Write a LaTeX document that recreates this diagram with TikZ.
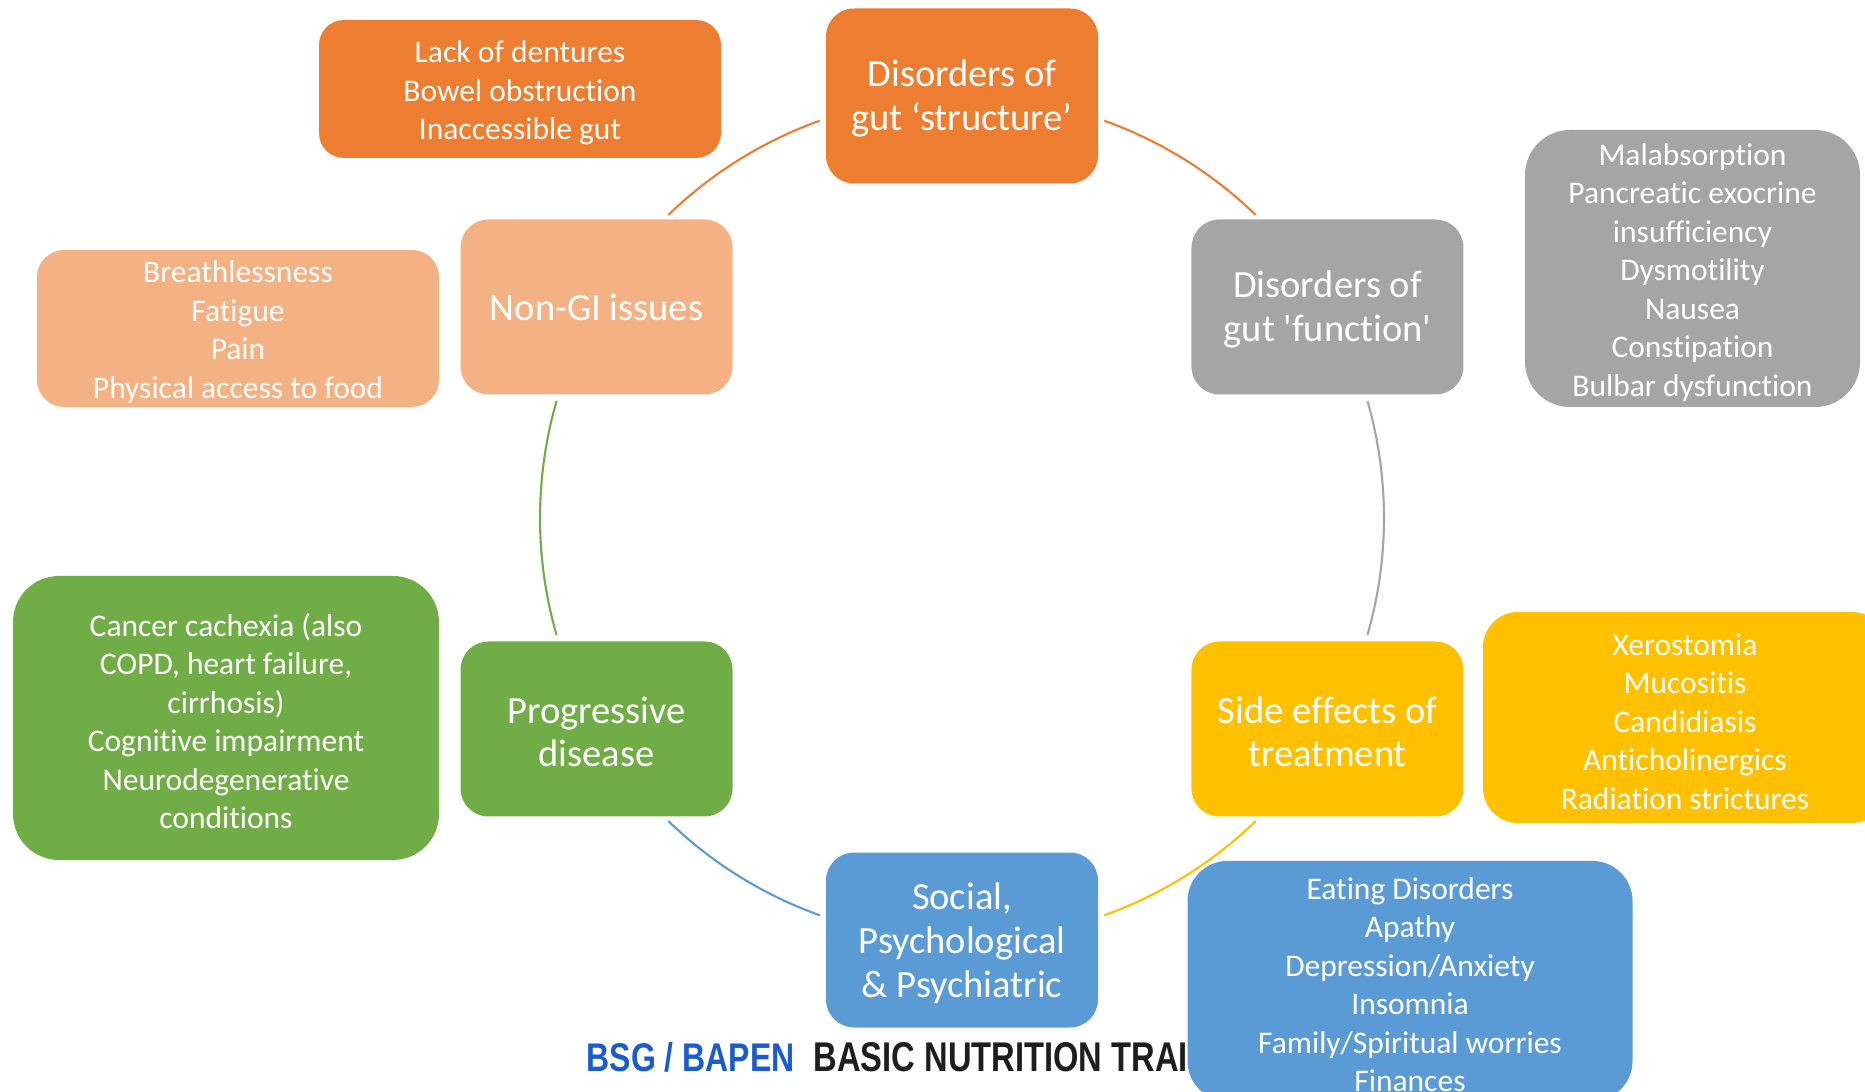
\documentclass[tikz,border=0pt]{standalone}
\usepackage{fontspec}
\setmainfont{Carlito}[Ligatures={NoCommon}]
\newfontfamily\brandfont{Liberation Sans}

\definecolor{gutOrange}{HTML}{ED7D31}
\definecolor{gutGrey}{HTML}{A5A5A5}
\definecolor{gutYellow}{HTML}{FFC000}
\definecolor{gutBlue}{HTML}{5B9BD5}
\definecolor{gutGreen}{HTML}{70AD47}
\definecolor{gutPeach}{HTML}{F4B183}
\definecolor{brandBlue}{HTML}{1A5CCC}
\definecolor{brandBlack}{HTML}{1E1E1E}

% struts that push the text blocks down a little
\newcommand{\causegap}{\rule{0pt}{9.2pt}}
\newcommand{\listgap}{\rule{0pt}{8.4pt}}

\tikzset{
  causebox/.style={rectangle, rounded corners=0.28cm,
    minimum width=2.72cm, minimum height=1.75cm,
    inner sep=0pt, align=center, text=white,
    font=\fontsize{10.95pt}{12.5pt}\selectfont},
  listbox/.style={rectangle, inner sep=0pt, align=center, text=white,
    font=\fontsize{8.96pt}{10.95pt}\selectfont},
  ring/.style={line width=0.6pt},
}

\def\ringRadius{4.22}

\begin{document}
\begin{tikzpicture}
  \useasboundingbox (0,0) rectangle (18.65,10.91);
  \coordinate (hub) at (9.62,5.73);

  % the ring, in six coloured pieces
  \draw[ring, gutOrange]
    ([shift={(70.3:\ringRadius)}]hub)
    arc[start angle=70.3, end angle=45.9, radius=\ringRadius];
  \draw[ring, gutGrey]
    ([shift={(16.1:\ringRadius)}]hub)
    arc[start angle=16.1, end angle=-16.1, radius=\ringRadius];
  \draw[ring, gutYellow]
    ([shift={(-45.9:\ringRadius)}]hub)
    arc[start angle=-45.9, end angle=-70.3, radius=\ringRadius];
  \draw[ring, gutBlue]
    ([shift={(-109.7:\ringRadius)}]hub)
    arc[start angle=-109.7, end angle=-134.1, radius=\ringRadius];
  \draw[ring, gutGreen]
    ([shift={(-163.9:\ringRadius)}]hub)
    arc[start angle=-163.9, end angle=-196.1, radius=\ringRadius];
  \draw[ring, gutOrange]
    ([shift={(134.1:\ringRadius)}]hub)
    arc[start angle=134.1, end angle=109.7, radius=\ringRadius];

  % the six causes
  \node[causebox, fill=gutOrange] (structure)
    at ([shift={(90:\ringRadius)}]hub)
    {\causegap Disorders of\\gut ‘structure’};
  \node[causebox, fill=gutGrey] (function)
    at ([shift={(30:\ringRadius)}]hub)
    {\causegap Disorders of\\gut \textquotesingle function\textquotesingle};
  \node[causebox, fill=gutYellow] (sideeffects)
    at ([shift={(-30:\ringRadius)}]hub)
    {\causegap Side effects of\\treatment};
  \node[causebox, fill=gutBlue] (social)
    at ([shift={(-90:\ringRadius)}]hub)
    {\causegap Social,\\Psychological\\\& Psychiatric};
  \node[causebox, fill=gutGreen] (progressive)
    at ([shift={(-150:\ringRadius)}]hub)
    {\causegap Progressive\\disease};
  \node[causebox, fill=gutPeach] (nongi)
    at ([shift={(150:\ringRadius)}]hub)
    {Non-GI issues};

  % footer
  \node[anchor=base west, inner sep=0pt, text=brandBlue] (brand)
    at (5.86,0.20)
    {\resizebox{2.08cm}{0.29cm}{\brandfont\bfseries BSG / BAPEN}};
  \node[anchor=base west, inner sep=0pt, text=brandBlack] (course)
    at (8.13,0.20)
    {\resizebox{3.74cm}{0.29cm}{\brandfont\bfseries BASIC NUTRITION TRAI}};

  % examples for each cause
  \node[listbox, fill=gutOrange, rounded corners=0.25cm,
    minimum width=4.02cm, minimum height=1.38cm] (structurelist)
    at (5.20,10.02)
    {\listgap Lack of dentures\\Bowel obstruction\\Inaccessible gut};
  \node[listbox, fill=gutGrey, rounded corners=0.45cm,
    minimum width=3.35cm, minimum height=2.77cm] (functionlist)
    at (16.925,8.225)
    {\listgap Malabsorption\\Pancreatic exocrine\\insufficiency\\Dysmotility\\Nausea\\Constipation\\Bulbar dysfunction};
  \node[listbox, fill=gutYellow, rounded corners=0.35cm,
    minimum width=4.04cm, minimum height=2.11cm] (sideeffectslist)
    at (16.85,3.735)
    {\listgap Xerostomia\\Mucositis\\Candidiasis\\Anticholinergics\\Radiation strictures};
  \node[listbox, fill=gutBlue, rounded corners=0.4cm,
    minimum width=4.45cm, minimum height=2.40cm] (sociallist)
    at (14.10,1.10)
    {\listgap Eating Disorders\\Apathy\\Depression/Anxiety\\Insomnia\\Family/Spiritual worries\\Finances};
  \node[listbox, fill=gutGreen, rounded corners=0.46cm,
    minimum width=4.26cm, minimum height=2.84cm] (progressivelist)
    at (2.26,3.73)
    {\listgap Cancer cachexia (also\\COPD, heart failure,\\cirrhosis)\\Cognitive impairment\\Neurodegenerative\\conditions};
  \node[listbox, fill=gutPeach, rounded corners=0.27cm,
    minimum width=4.02cm, minimum height=1.57cm] (nongilist)
    at (2.38,7.625)
    {\listgap Breathlessness\\Fatigue\\Pain\\Physical access to food};
\end{tikzpicture}
\end{document}
